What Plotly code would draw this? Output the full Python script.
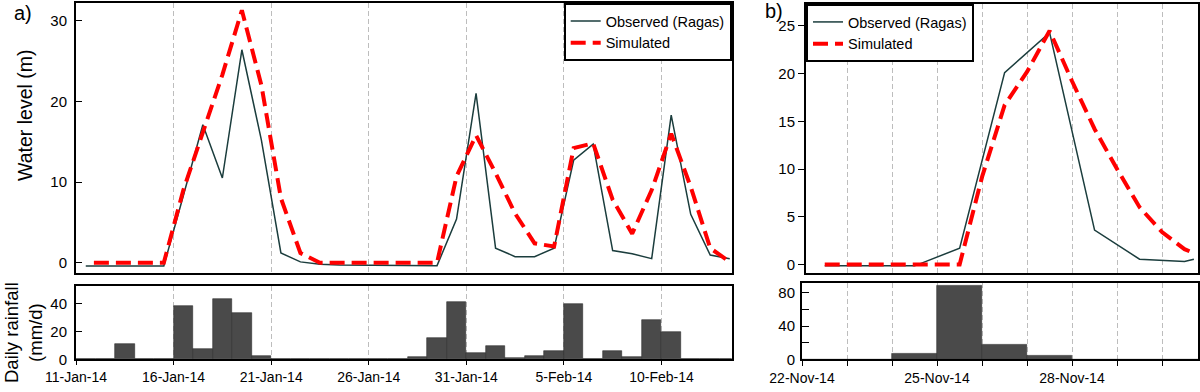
import plotly.graph_objects as go
import pandas as pd

# ---------------- Panel a data (Jan-Feb 2014) ----------------
a_obs_time = pd.date_range("2014-01-11 12:00", periods=34, freq="D")
a_observed = [-0.4, -0.4, -0.4, -0.4, -0.4, 8.3, 17.1, 10.5, 26.4, 15.2,
              1.2, 0.1, -0.2, -0.3, -0.3, -0.35, -0.35, -0.35, -0.37, 5.4,
              21.0, 1.8, 0.75, 0.75, 1.8, 12.7, 14.7, 1.5, 1.1, 0.5,
              18.3, 6.0, 0.95, 0.5]
a_sim_time = [pd.Timestamp("2014-01-11 22:00")] + list(pd.date_range("2014-01-12 12:00", periods=33, freq="D"))
a_simulated = [0, 0, 0, 0, 0, 9.0, 16.0, 23.3, 31.3, 22.0,
               8.0, 1.2, 0, 0, 0, 0, 0, 0, 0, 10.7,
               15.8, 11.1, 6.1, 2.4, 2.0, 14.2, 14.8, 7.8, 3.6, 9.0,
               16.0, 9.4, 1.8, 0.1]
a_rain_day = pd.date_range("2014-01-11", periods=34, freq="D")
a_rainfall = [0, 0, 11, 0, 0, 38, 7.4, 43.3, 32.8, 2.1,
              0, 0, 0, 0, 0, 0, 0, 1.4, 15, 41.2,
              4.8, 9.8, 1.2, 2.6, 5.7, 39.3, 0, 5.7, 1.4, 28,
              19.7, 0, 0, 0]
a_tick_dates = pd.date_range("2014-01-11", periods=7, freq="5D")
a_tick_labels = ["11-Jan-14", "16-Jan-14", "21-Jan-14", "26-Jan-14",
                 "31-Jan-14", "5-Feb-14", "10-Feb-14"]

# ---------------- Panel b data (Nov 2014) ----------------
b_obs_time = pd.to_datetime(["2014-11-22 12:00", "2014-11-23 12:00", "2014-11-24 12:00",
                             "2014-11-25 12:00", "2014-11-26 12:00", "2014-11-27 12:00",
                             "2014-11-28 12:00", "2014-11-29 12:00", "2014-11-30 12:00",
                             "2014-11-30 17:00"])
b_observed = [-0.15, -0.15, -0.15, 1.7, 20.1, 24.3, 3.6, 0.55, 0.3, 0.55]
b_sim_time = pd.to_datetime(["2014-11-22 12:00", "2014-11-23 12:00", "2014-11-24 12:00",
                             "2014-11-25 12:00", "2014-11-26 00:00", "2014-11-26 12:00",
                             "2014-11-27 00:00", "2014-11-27 12:00", "2014-11-28 00:00",
                             "2014-11-28 12:00", "2014-11-29 00:00", "2014-11-29 12:00",
                             "2014-11-30 00:00", "2014-11-30 12:00", "2014-11-30 18:00"])
b_simulated = [0, 0, 0, 0, 9.2, 16.7, 20.2, 24.5, 19.2, 14.2, 10.0, 6.0, 3.4, 1.6, 1.1]
b_rain_day = pd.date_range("2014-11-22", periods=9, freq="D")
b_rainfall = [0, 0, 7.2, 88, 17.6, 4.4, 0, 0, 0]
b_tick_labels = ["22-Nov-14", "", "", "25-Nov-14", "", "", "28-Nov-14", "", ""]

OBS_COLOR = "#1b3d3d"
SIM_COLOR = "#ff0000"
BAR_COLOR = "#4a4a4a"
GRID = dict(showgrid=True, gridcolor="#bdbdbd", gridwidth=1, griddash="5px,3px")
BOX = dict(showline=True, mirror=True, linewidth=2, linecolor="black", zeroline=False,
           automargin=False)
DAY_MS = 86400000

fig = go.Figure()

# Panel a
fig.add_trace(go.Scatter(x=a_obs_time, y=a_observed, mode="lines", name="Observed (Ragas)",
                         line=dict(color=OBS_COLOR, width=1.5), xaxis="x", yaxis="y", legend="legend"))
fig.add_trace(go.Scatter(x=a_sim_time, y=a_simulated, mode="lines", name="Simulated",
                         line=dict(color=SIM_COLOR, width=4, dash="15px,7px"), xaxis="x", yaxis="y", legend="legend"))
fig.add_trace(go.Bar(x=a_rain_day, y=a_rainfall, width=[DAY_MS] * len(a_rain_day), offset=0,
                     marker=dict(color=BAR_COLOR, line=dict(color="#2e2e2e", width=0.6)),
                     showlegend=False, xaxis="x2", yaxis="y2"))

# Panel b
fig.add_trace(go.Scatter(x=b_obs_time, y=b_observed, mode="lines", name="Observed (Ragas)",
                         line=dict(color=OBS_COLOR, width=1.5), xaxis="x3", yaxis="y3", legend="legend2"))
fig.add_trace(go.Scatter(x=b_sim_time, y=b_simulated, mode="lines", name="Simulated",
                         line=dict(color=SIM_COLOR, width=4, dash="15px,7px"), xaxis="x3", yaxis="y3", legend="legend2"))
fig.add_trace(go.Bar(x=b_rain_day, y=b_rainfall, width=[DAY_MS] * len(b_rain_day), offset=0,
                     marker=dict(color=BAR_COLOR, line=dict(color="#2e2e2e", width=0.6)),
                     showlegend=False, xaxis="x4", yaxis="y4"))

W, H = 1200.0, 392.0
def xd(a, b):
    return [a / W, b / W]
def yd(top, bottom):
    return [1 - bottom / H, 1 - top / H]

a_range = ["2014-01-11 00:00", "2014-02-13 14:24"]
b_top_range = ["2014-11-22 02:00", "2014-11-30 19:12"]
b_bot_range = ["2014-11-22 00:00", "2014-11-30 19:12"]

fig.update_layout(
    width=1200, height=392,
    margin=dict(l=0, r=0, t=0, b=0, autoexpand=False),
    paper_bgcolor="white", plot_bgcolor="white",
    font=dict(family="Liberation Sans, Arial, sans-serif", size=14, color="black"),
    bargap=0,
    xaxis=dict(domain=xd(76, 731.7), anchor="y", type="date", range=a_range,
               tickvals=a_tick_dates, showticklabels=False, ticks="", **GRID, **BOX),
    yaxis=dict(domain=yd(3, 273), anchor="x", range=[-1.28, 32.2], tickvals=[0, 10, 20, 30],
               ticks="inside", ticklen=6, tickcolor="black", showgrid=False,
               tickfont=dict(size=15), ticklabelstandoff=4, **BOX),
    xaxis2=dict(domain=xd(76, 731.7), anchor="y2", type="date", range=a_range,
                tickvals=a_tick_dates, ticktext=a_tick_labels, ticks="outside", ticklen=4,
                tickcolor="black", tickfont=dict(size=14), **GRID, **BOX),
    yaxis2=dict(domain=yd(286, 359.3), anchor="x2", range=[0, 52.4], tickvals=[0, 20, 40],
                ticks="inside", ticklen=6, tickcolor="black", showgrid=False,
                tickfont=dict(size=15), ticklabelstandoff=4, **BOX),
    xaxis3=dict(domain=xd(806, 1198), anchor="y3", type="date", range=b_top_range,
                tickvals=b_rain_day, showticklabels=False, ticks="", **GRID, **BOX),
    yaxis3=dict(domain=yd(4, 273), anchor="x3", range=[-0.9, 27.3], tickvals=[0, 5, 10, 15, 20, 25],
                ticks="outside", ticklen=6, tickcolor="black", showgrid=False,
                tickfont=dict(size=15), **BOX),
    xaxis4=dict(domain=xd(802, 1198), anchor="y4", type="date", range=b_bot_range,
                tickvals=b_rain_day, ticktext=b_tick_labels, ticks="outside", ticklen=5,
                tickcolor="black", tickfont=dict(size=14), **GRID, **BOX),
    yaxis4=dict(domain=yd(282.7, 359.3), anchor="x4", range=[0, 92], tickvals=[0, 20, 40, 60, 80],
                ticktext=["0", "", "40", "", "80"], ticks="inside", ticklen=7, tickcolor="black",
                showgrid=False, tickfont=dict(size=15), ticklabelstandoff=2, **BOX),
    legend=dict(x=731.7 / W, xanchor="right", y=1 - 3 / H, yanchor="top",
                bordercolor="black", borderwidth=2, bgcolor="white",
                font=dict(size=14.5), tracegroupgap=0),
    legend2=dict(x=806 / W, xanchor="left", y=1 - 4 / H, yanchor="top",
                 bordercolor="black", borderwidth=2, bgcolor="white",
                 font=dict(size=14.5), tracegroupgap=0),
    annotations=[
        dict(text="a)", x=12 / W, y=1 - 13 / H, xref="paper", yref="paper",
             xanchor="left", yanchor="middle", showarrow=False, font=dict(size=20)),
        dict(text="b)", x=763 / W, y=1 - 11 / H, xref="paper", yref="paper",
             xanchor="left", yanchor="middle", showarrow=False, font=dict(size=20)),
        dict(text="Water level (m)", x=25 / W, y=1 - 116 / H, xref="paper", yref="paper",
             xanchor="center", yanchor="middle", showarrow=False, textangle=-90,
             font=dict(size=19.5)),
        dict(text="Daily rainfall<br>(mm/d)", x=23 / W, y=1 - 333 / H, xref="paper", yref="paper",
             xanchor="center", yanchor="middle", showarrow=False, textangle=-90,
             font=dict(size=18.5)),
    ],
)

fig.write_html("out.html", config={"displayModeBar": False},
               post_script="document.body.style.margin='0';document.body.style.overflow='hidden';")
